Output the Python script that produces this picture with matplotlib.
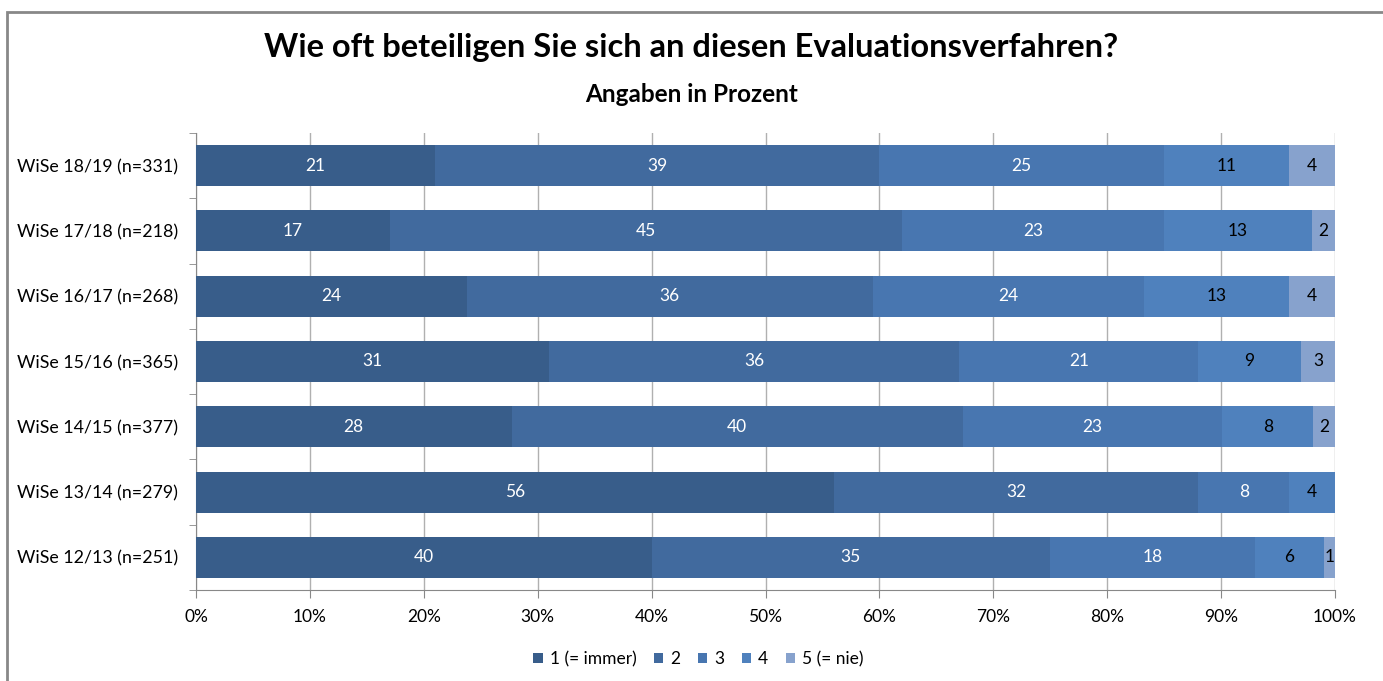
import matplotlib.pyplot as plt
from matplotlib.patches import Rectangle
import numpy as np

# survey rows, top to bottom as in the chart
semesters = ["WiSe 18/19 (n=331)", "WiSe 17/18 (n=218)", "WiSe 16/17 (n=268)",
             "WiSe 15/16 (n=365)", "WiSe 14/15 (n=377)", "WiSe 13/14 (n=279)",
             "WiSe 12/13 (n=251)"]
answers = ["1 (= immer)", "2", "3", "4", "5 (= nie)"]

# shares in percent per answer (bar lengths), rows as in semesters
s1 = [21.0, 17.0, 23.8, 31.0, 27.7, 56.0, 40.0]
s2 = [39.0, 45.0, 35.6, 36.0, 39.6, 32.0, 35.0]
s3 = [25.0, 23.0, 23.8, 21.0, 22.8, 8.0, 18.0]
s4 = [11.0, 13.0, 12.8, 9.0, 8.0, 4.0, 6.0]
s5 = [4.0, 2.0, 4.0, 3.0, 1.9, 0.0, 1.0]

colors = ["#385d8a", "#416a9e", "#4876b0", "#4f81bd", "#87a2cd"]
label_colors = ["white", "white", "white", "black", "black"]

plt.rcParams['font.family'] = ['Lato', 'DejaVu Sans']

fig = plt.figure(figsize=(13.83, 6.81), dpi=100)
ax = fig.add_axes([196 / 1383, 1 - 590 / 681, (1335 - 196) / 1383, (590 - 133) / 681])

# chart border
fig.patches.append(Rectangle((7 / 1383, -0.1), 1.2, 1 - 12 / 681 + 0.1,
                             transform=fig.transFigure, fill=False,
                             edgecolor="#888888", linewidth=2))

y = np.arange(len(semesters))
left = np.zeros(len(semesters))
for series, name, col, tcol in zip([s1, s2, s3, s4, s5], answers, colors, label_colors):
    vals = np.array(series)
    bars = ax.barh(y, vals, left=left, height=0.63, color=col, label=name, zorder=3)
    for b, v in zip(bars, vals):
        if v > 0:
            ax.text(b.get_x() + b.get_width() / 2, b.get_y() + b.get_height() / 2,
                    f"{v:.0f}", ha="center", va="center", color=tcol, fontsize=12.5, zorder=4)
    left += vals

ax.set_xlim(0, 100)
ax.set_ylim(len(semesters) - 0.5, -0.5)
ax.set_xticks(np.arange(0, 101, 10))
ax.set_xticklabels([f"{t}%" for t in range(0, 101, 10)], fontsize=12.5)
ax.set_yticks(y)
ax.set_yticklabels(semesters, fontsize=12.8)
ax.set_yticks(np.arange(-0.5, len(semesters)), minor=True)
ax.tick_params(axis="y", which="major", length=0, pad=13)
ax.tick_params(axis="y", which="minor", length=5, color="#888888", direction="out")
ax.tick_params(axis="x", length=6, color="#888888", direction="out", pad=8)
ax.grid(axis="x", color="#b0b0b0", linewidth=1, zorder=0)
for s in ["top", "right"]:
    ax.spines[s].set_visible(False)
for s in ["left", "bottom"]:
    ax.spines[s].set_color("#888888")

fig.text(0.5, 1 - 48 / 681, "Wie oft beteiligen Sie sich an diesen Evaluationsverfahren?",
         ha="center", va="center", fontsize=23.5, fontweight="bold")
fig.text(0.5, 1 - 94 / 681, "Angaben in Prozent", ha="center", va="center",
         fontsize=17.5, fontweight="bold")

fig.legend(loc="center", bbox_to_anchor=(0.505, 1 - 659 / 681), ncol=5, frameon=False,
           fontsize=12.5, handlelength=0.55, handleheight=0.55, handletextpad=0.4,
           columnspacing=1.0)

fig.savefig("out.png", dpi=100)
